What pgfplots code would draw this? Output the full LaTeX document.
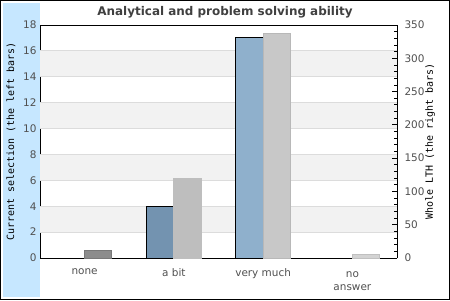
\documentclass[border=0pt]{standalone}
\usepackage{pgfplots}
\pgfplotsset{compat=1.18}
\usepackage{fontspec}
\setmainfont{DejaVu Sans}
\newfontfamily\monofont{DejaVu Sans Mono}
\definecolor{stripblue}{HTML}{C6E7FF}
\definecolor{bandgray}{HTML}{F2F2F2}
\definecolor{gridgray}{HTML}{DCDCDC}
\definecolor{ticktext}{HTML}{505050}
\definecolor{titletext}{HTML}{404040}
\definecolor{leftlab}{HTML}{2F4A66}
\definecolor{lbit}{HTML}{7393B0}
\definecolor{lvery}{HTML}{8FB0CC}
\definecolor{rnone}{HTML}{8C8C8C}
\definecolor{rnoneb}{HTML}{787878}
\definecolor{rbit}{HTML}{BEBEBE}
\definecolor{rvery}{HTML}{C8C8C8}
\definecolor{rveryb}{HTML}{B8B8B8}
\definecolor{rno}{HTML}{D3D3D3}
\definecolor{rnob}{HTML}{C0C0C0}
\begin{document}
\begin{tikzpicture}[x=1bp,y=1bp]
\fill[white] (0,0) rectangle (450,300);
\fill[stripblue] (3,3) rectangle (40,297);
\draw[black,line width=1bp] (0.5,0.5) rectangle (449.5,299.5);
\node[font=\bfseries\fontsize{12}{14}\selectfont,text=titletext] at (225,288) {Analytical and problem solving ability};
\begin{axis}[
  at={(40bp,42bp)}, anchor=south west,
  scale only axis, width=357bp, height=233bp,
  xmin=-0.5, xmax=3.5, ymin=0, ymax=18,
  ytick={0,2,...,18},
  xtick={0,1,2},
  xticklabels={none,a bit,very much},
  extra x ticks={3},
  extra x tick labels={{no\\answer}},
  extra x tick style={xticklabel style={yshift=-3bp}},
  /pgf/number format/assume math mode=true,
  yticklabel={\pgfmathprintnumber{\tick}},
  xticklabel style={align=center,anchor=north,yshift=-7bp,text=ticktext,font=\fontsize{10.5}{13}\selectfont},
  yticklabel style={text=ticktext,font=\fontsize{10.5}{12}\selectfont,xshift=0bp},
  major tick length=0pt,
  axis line style={black,line width=1bp},
  axis y line*=left,
  axis x line*=bottom,
  ylabel={\monofont Current selection (the left bars)},
  ylabel style={font=\fontsize{9.2}{12}\selectfont,text=leftlab},
  every axis y label/.style={at={(rel axis cs:0,0.5)},xshift=-29bp,rotate=90,anchor=center},
  ybar, bar width=0.305,
]
\fill[bandgray] (axis cs:-0.5,2) rectangle (axis cs:3.5,4);
\fill[bandgray] (axis cs:-0.5,6) rectangle (axis cs:3.5,8);
\fill[bandgray] (axis cs:-0.5,10) rectangle (axis cs:3.5,12);
\fill[bandgray] (axis cs:-0.5,14) rectangle (axis cs:3.5,16);
\draw[gridgray,line width=0.8bp] (axis cs:-0.5,2) -- (axis cs:3.5,2);
\draw[gridgray,line width=0.8bp] (axis cs:-0.5,4) -- (axis cs:3.5,4);
\draw[gridgray,line width=0.8bp] (axis cs:-0.5,6) -- (axis cs:3.5,6);
\draw[gridgray,line width=0.8bp] (axis cs:-0.5,8) -- (axis cs:3.5,8);
\draw[gridgray,line width=0.8bp] (axis cs:-0.5,10) -- (axis cs:3.5,10);
\draw[gridgray,line width=0.8bp] (axis cs:-0.5,12) -- (axis cs:3.5,12);
\draw[gridgray,line width=0.8bp] (axis cs:-0.5,14) -- (axis cs:3.5,14);
\draw[gridgray,line width=0.8bp] (axis cs:-0.5,16) -- (axis cs:3.5,16);
\addplot[bar shift=-0.1525, fill=lbit, draw=black, line width=1bp] coordinates {(1,4)};
\addplot[bar shift=-0.1525, fill=lvery, draw=black, line width=1bp] coordinates {(2,17)};
\end{axis}
\begin{axis}[
  at={(40bp,42bp)}, anchor=south west,
  scale only axis, width=357bp, height=233bp,
  xmin=-0.5, xmax=3.5, ymin=0, ymax=350,
  ytick={0,50,...,350},
  minor y tick num=4,
  xtick=\empty,
  axis x line*=top,
  axis y line*=right,
  axis line style={black,line width=1bp},
  major tick length=5bp, minor tick length=3bp,
  tick style={black,line width=0.8bp},
  tick align=inside,
  /pgf/number format/assume math mode=true,
  yticklabel={\pgfmathprintnumber{\tick}},
  yticklabel style={text=ticktext,font=\fontsize{10.5}{12}\selectfont,xshift=4bp},
  ylabel={\monofont Whole LTH (the right bars)},
  ylabel style={font=\fontsize{9.7}{12}\selectfont,text=black},
  every axis y label/.style={at={(rel axis cs:1,0.5)},xshift=33bp,rotate=90,anchor=center},
  ybar, bar width=0.305,
]
\addplot[bar shift=0.1525, fill=rnone, draw=rnoneb, line width=0.8bp] coordinates {(0,11)};
\addplot[bar shift=0.1525, fill=rbit, draw=rbit, line width=0.8bp] coordinates {(1,120)};
\addplot[bar shift=0.1525, fill=rvery, draw=rveryb, line width=0.8bp] coordinates {(2,338)};
\addplot[bar shift=0.1525, fill=rno, draw=rnob, line width=0.8bp] coordinates {(3,5)};
\end{axis}
\end{tikzpicture}
\end{document}
